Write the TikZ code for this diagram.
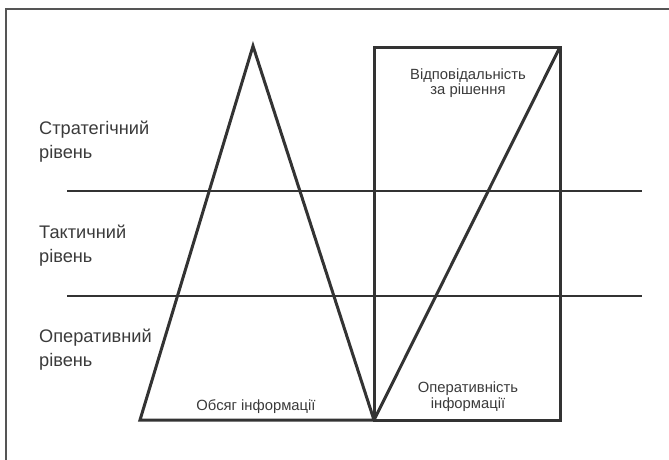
\documentclass[tikz,border=0pt]{standalone}
\usepackage{fontspec}
\setmainfont{Liberation Sans}
\definecolor{ink}{HTML}{333333}
\definecolor{txt}{HTML}{3A3A3A}
\definecolor{frm}{HTML}{555555}
\tikzset{
  shape line/.style={draw=ink, line width=3pt, line join=miter},
  level line/.style={draw=ink, line width=2.8pt},
  big label/.style={inner sep=0pt, text=txt, align=left, font=\fontsize{18.2}{24}\selectfont},
  small label/.style={inner sep=0pt, text=txt, align=center, font=\fontsize{14.8}{15.5}\selectfont},
}
\begin{document}
\begin{tikzpicture}[x=1pt,y=-1pt]
\useasboundingbox (0,0) rectangle (669,459);
\begin{scope}
\clip (0,0) rectangle (669,459);
\draw[frm, line width=1.6pt] (6,9) rectangle (690,480);
\end{scope}
% coordinates
\coordinate (apex) at (253,46);
\coordinate (bl) at (140,420);
\coordinate (bm) at (374,420);
\coordinate (rtl) at (374,47);
\coordinate (rtr) at (560,47);
\coordinate (rbr) at (560,420);
\coordinate (l1a) at (67,191);
\coordinate (l1b) at (642,191);
\coordinate (l2a) at (67,296);
\coordinate (l2b) at (642,296);
% level lines
\draw[level line] (l1a) -- (l1b);
\draw[level line] (l2a) -- (l2b);
% triangle
\draw[shape line] (bm) -- (bl) -- (apex) -- cycle;
% rectangle with diagonal
\draw[shape line] (bm) -- (rtl) -- (rtr) -- (rbr) -- cycle;
\draw[shape line] (bm) -- (rtr);
% labels (base anchor = baseline of the last line)
\node[big label, anchor=base west] (strat) at (39,158) {Стратегічний\\рівень};
\node[big label, anchor=base west] (takt) at (39,262) {Тактичний\\рівень};
\node[big label, anchor=base west] (oper) at (39,366) {Оперативний\\рівень};
\node[small label, anchor=base] (resp) at (468,94.5) {Відповідальність\\за рішення};
\node[small label, anchor=base] (speed) at (468,408) {Оперативність\\інформації};
\node[small label, anchor=base] (vol) at (256,410) {Обсяг інформації};
\end{tikzpicture}
\end{document}
